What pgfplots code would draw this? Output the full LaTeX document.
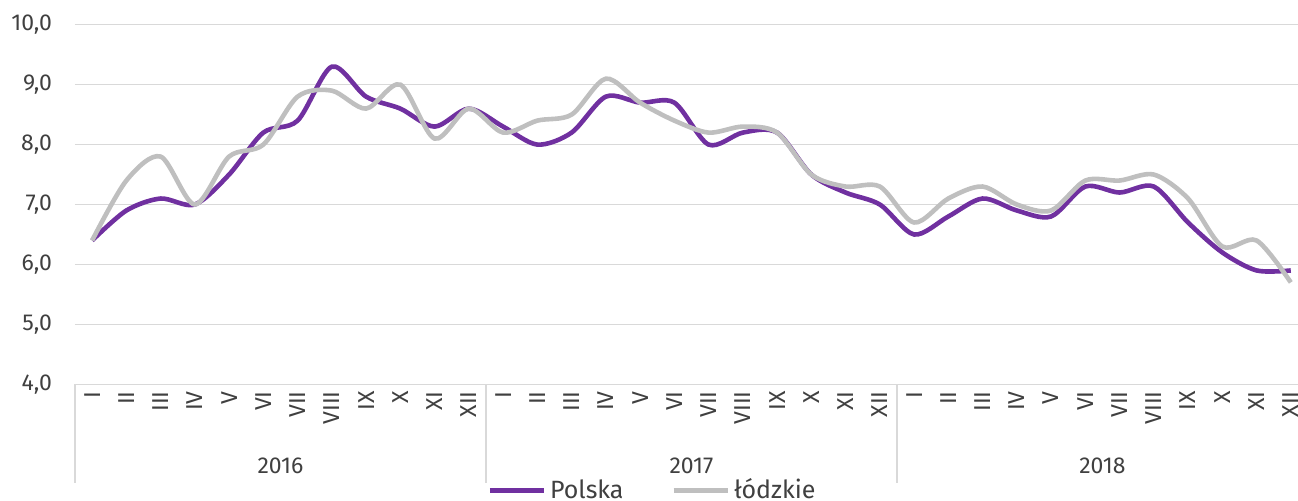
\documentclass[border=0pt]{standalone}
\usepackage{fontspec}
\setmainfont{Fira Sans}
\usepackage{pgfplots}
\pgfplotsset{compat=1.18}
\definecolor{polska}{HTML}{7030A0}
\definecolor{lodz}{HTML}{BFBFBF}
\definecolor{gridc}{HTML}{D9D9D9}
\definecolor{txt}{HTML}{404040}

% one month per x step: 0 = I 2016 ... 35 = XII 2018
\pgfplotstableread{
x   polska lodzkie
0   6.4  6.4
1   6.9  7.4
2   7.1  7.8
3   7.0  7.0
4   7.5  7.8
5   8.2  8.0
6   8.4  8.8
7   9.3  8.9
8   8.8  8.6
9   8.6  9.0
10  8.3  8.1
11  8.6  8.6
12  8.3  8.2
13  8.0  8.4
14  8.2  8.5
15  8.8  9.1
16  8.7  8.7
17  8.7  8.4
18  8.0  8.2
19  8.2  8.3
20  8.2  8.2
21  7.5  7.5
22  7.2  7.3
23  7.0  7.3
24  6.5  6.7
25  6.8  7.1
26  7.1  7.3
27  6.9  7.0
28  6.8  6.9
29  7.3  7.4
30  7.2  7.4
31  7.3  7.5
32  6.7  7.1
33  6.2  6.3
34  5.9  6.4
35  5.9  5.7
}\data

\begin{document}
\begin{tikzpicture}
\begin{axis}[
    at={(0pt,0pt)}, anchor=south west,
    scale only axis,
    width=611.5pt, height=179.8pt,
    xmin=-0.5, xmax=35.21,
    ymin=4, ymax=10,
    ytick={4,5,...,10},
    yticklabel={\pgfmathprintnumber[fixed,fixed zerofill,precision=1,use comma,assume math mode=true]{\tick}},
    xtick={0,...,35},
    xticklabels={I,II,III,IV,V,VI,VII,VIII,IX,X,XI,XII,
                 I,II,III,IV,V,VI,VII,VIII,IX,X,XI,XII,
                 I,II,III,IV,V,VI,VII,VIII,IX,X,XI,XII},
    major tick length=0pt,
    axis line style={draw=none},
    ymajorgrids,
    grid style={gridc, line width=0.6pt},
    tick label style={font=\fontsize{11.5}{13}\selectfont, text=txt},
    xticklabel style={rotate=90, anchor=east},
    yticklabel style={anchor=east, xshift=-8pt},
    clip=false,
    legend columns=2,
    legend style={at={(0.473,0)}, anchor=center, yshift=-53pt, draw=none,
        font=\fontsize{12.5}{14}\selectfont, text=txt,
        /tikz/every even column/.append style={column sep=22pt},
        inner sep=0pt},
    legend image code/.code={\draw[#1] (0pt,0pt) -- (27pt,0pt);},
]
\addplot[polska, line width=2.3pt, smooth, tension=0.5] table[x=x, y=polska] {\data};
\addlegendentry{Polska}
\addplot[lodz, line width=2.3pt, smooth, tension=0.5] table[x=x, y=lodzkie] {\data};
\addlegendentry{łódzkie}

\draw[gridc, line width=0.6pt] (axis cs:-0.5,4) -- ++(0pt,-49.5pt);
\draw[gridc, line width=0.6pt] (axis cs:11.5,4) -- ++(0pt,-49.5pt);
\draw[gridc, line width=0.6pt] (axis cs:23.5,4) -- ++(0pt,-49.5pt);
\node[font=\fontsize{11.5}{13}\selectfont, text=txt] at (axis cs:5.5,4) [yshift=-41pt] {2016};
\node[font=\fontsize{11.5}{13}\selectfont, text=txt] at (axis cs:17.5,4) [yshift=-41pt] {2017};
\node[font=\fontsize{11.5}{13}\selectfont, text=txt] at (axis cs:29.5,4) [yshift=-41pt] {2018};
\end{axis}
\pgfresetboundingbox
\useasboundingbox (-37.5pt,-57.85pt) rectangle (611.5pt,192.15pt);
\end{tikzpicture}
\end{document}
